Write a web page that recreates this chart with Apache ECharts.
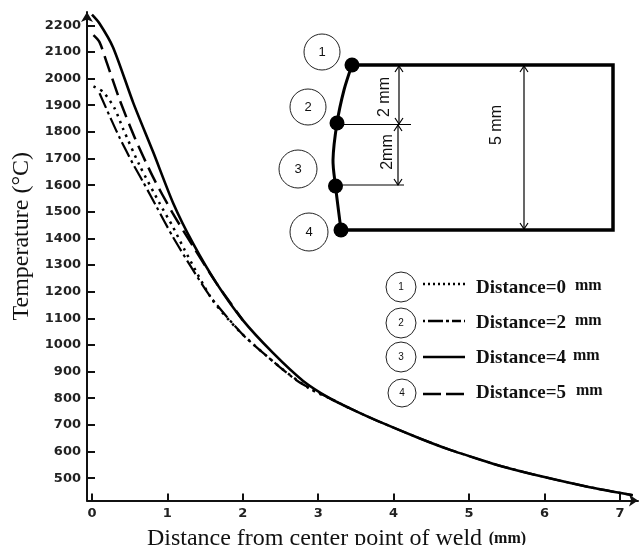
<!DOCTYPE html>
<html><head><meta charset="utf-8">
<style>html,body{margin:0;padding:0;background:#fff}#c{width:639px;height:545px}</style>
<script src="https://cdn.jsdelivr.net/npm/echarts@6/dist/echarts.min.js"></script>
</head><body><div id="c"></div>
<script>
const xTicks = [0,1,2,3,4,5,6,7];
const yTicks = [500,600,700,800,900,1000,1100,1200,1300,1400,1500,1600,1700,1800,1900,2000,2100,2200];
const dist0 = [[0.02,1971],[0.15,1950],[0.3,1888],[0.41,1813],[0.63,1675],[0.9,1530],[1.07,1445],[1.23,1356],[1.6,1168],[1.96,1050],[2.49,917],[2.89,835],[3.15,800],[3.42,762]];
const dist2 = [[0.1,1945],[0.26,1843],[0.37,1776],[0.54,1682],[0.68,1611],[0.86,1517],[1.07,1407],[1.32,1290],[1.56,1185],[1.79,1105],[2.03,1030],[2.49,917],[2.75,860],[3.15,800],[3.42,762],[3.81,712],[4.34,650],[4.74,607],[5.14,570],[5.44,544],[5.97,506],[6.6,466],[7.17,436]];
const dist4 = [[0,2240],[0.1,2207],[0.28,2117],[0.55,1907],[0.81,1725],[1.08,1530],[1.34,1381],[1.65,1232],[2.0,1093],[2.4,970],[2.8,865],[3.15,800],[3.42,762],[3.81,712],[4.34,650],[4.74,607],[5.14,570],[5.44,544],[5.97,506],[6.6,466],[7.17,436]];
const dist5 = [[0.02,2163],[0.1,2137],[0.2,2057],[0.37,1918],[0.57,1776],[0.81,1630],[1.07,1495],[1.34,1370],[1.65,1232],[2.0,1093]];
const seriesNames = ['Distance=0 mm','Distance=2 mm','Distance=4 mm','Distance=5 mm'];
const serif = '"Liberation Serif", serif';
const sans = '"Liberation Sans", Arial, sans-serif';
const ink = '#111';

const chart = echarts.init(document.getElementById('c'));
function circle(cx, cy, r, label, size){
  return [
    {type:'circle',shape:{cx,cy,r},style:{fill:'#fff',stroke:'#222',lineWidth:1}},
    {type:'text',style:{x:cx,y:cy,text:label,font:`${size}px ${sans}`,fill:ink,align:'center',verticalAlign:'middle'}}
  ];
}
function dot(cx,cy){return {type:'circle',shape:{cx,cy,r:7.5},style:{fill:'#000'}};}
function seg(x1,y1,x2,y2,w){return {type:'line',shape:{x1,y1,x2,y2},style:{stroke:'#000',lineWidth:w}};}
function vArrow(x,y1,y2){
  return [seg(x,y1,x,y2,1.2),
    {type:'polyline',shape:{points:[[x-4,y1+6],[x,y1],[x+4,y1+6]]},style:{stroke:'#000',fill:'none',lineWidth:1.2}},
    {type:'polyline',shape:{points:[[x-4,y2-6],[x,y2],[x+4,y2-6]]},style:{stroke:'#000',fill:'none',lineWidth:1.2}}];
}
function vText(x,y,t,size){return {type:'text',x,y,rotation:Math.PI/2,style:{x:0,y:0,text:t,font:`${size}px ${sans}`,fill:ink,align:'center',verticalAlign:'middle'}};}
function legLine(x1,x2,y,dash,w){return {type:'line',shape:{x1,y1:y,x2,y2:y},style:{stroke:'#000',lineWidth:w,lineDash:dash}};}
function legText(y,t,x2){return [
  {type:'text',style:{x:476,y,text:t,font:`bold 19px ${serif}`,fill:ink,align:'left',verticalAlign:'middle'}},
  {type:'text',style:{x:x2,y:y-2,text:'mm',font:`bold 16px ${serif}`,fill:ink,align:'left',verticalAlign:'middle'}}];}

const graphics = [
  {type:'polyline',shape:{points:[[352,65],[613,65],[613,230],[341,230]]},style:{stroke:'#000',fill:'none',lineWidth:3.5}},
  {type:'polyline',shape:{points:[[352,65],[344,90],[337,123],[333,160],[335.5,186],[341,230]],smooth:0.3},style:{stroke:'#000',fill:'none',lineWidth:3}},
  dot(352,65),dot(337,123),dot(335.5,186),dot(341,230),
  seg(337,124.5,411,124.5,1.2),seg(336,185,404,185,1.2),
  ...vArrow(399,66,124),...vArrow(398,125,185),...vArrow(524,66,229),
  vText(385,97,'2 mm',16),vText(388,152,'2mm',16),vText(497,125,'5 mm',16),
  ...circle(322,52,18,'1',13),...circle(308,107,18,'2',13),...circle(298,169,19,'3',13),...circle(309,232,19,'4',13),
  ...circle(401,287,15,'1',10),...circle(401,323,15,'2',10),...circle(401,357,15,'3',10),...circle(402,393,14,'4',10),
  legLine(423,465,284,[2,3],2.5),
  legLine(423,465,321,[2,3,15,3,3,3,7,0],2.5),
  legLine(423,465,357,[],2.5),
  legLine(423,465,394,[18,5],2.5),
  ...legText(288,'Distance=0',575),...legText(323,'Distance=2',575),...legText(358,'Distance=4',573),...legText(393,'Distance=5',576)
];
const mk = (name,data,type,w) => ({name,type:'line',data,symbol:'none',smooth:0.25,clip:false,
  lineStyle:{color:'#000',width:w,type,cap:'butt'}});
chart.setOption({
  animation:false,backgroundColor:'#fff',
  grid:{left:87,right:1,top:12,bottom:44.5,outerBoundsMode:'none'},
  xAxis:{type:'value',min:-0.066,max:7.24,splitLine:{show:false},
    axisLine:{onZero:false,lineStyle:{color:'#111',width:2},symbol:['none','arrow'],symbolSize:[9,9]},
    axisTick:{inside:true,length:7,lineStyle:{color:'#111',width:2},customValues:xTicks},
    axisLabel:{margin:7,color:'#222',fontFamily:'DejaVu Sans',fontWeight:'bold',fontSize:13,customValues:xTicks,showMinLabel:true,showMaxLabel:true,formatter:v=>String(v)},
    name:'{a|Distance from center point of weld}  {b|(mm)}',nameLocation:'middle',nameGap:26,
    nameTextStyle:{padding:[0,52,0,0],rich:{a:{fontFamily:serif,fontSize:24,color:ink},b:{fontFamily:serif,fontSize:16,fontWeight:'bold',color:ink}}}},
  yAxis:{type:'value',min:416,max:2250,splitLine:{show:false},
    axisLine:{onZero:false,lineStyle:{color:'#111',width:2},symbol:['none','arrow'],symbolSize:[9,10]},
    axisTick:{inside:true,length:8,lineStyle:{color:'#111',width:2},customValues:yTicks},
    axisLabel:{margin:6,color:'#222',fontFamily:'DejaVu Sans',fontWeight:'bold',fontSize:13,customValues:yTicks,formatter:v=>String(v)},
    name:'Temperature (°C)',nameLocation:'middle',nameGap:53,nameRotate:90,
    nameTextStyle:{fontFamily:serif,fontSize:24,color:ink,padding:[0,0,0,40]}},
  series:[
    mk(seriesNames[0],dist0,[2.5,5],2.5),
    mk(seriesNames[1],dist2,[16,4,3,4],2.2),
    mk(seriesNames[2],dist4,'solid',2.6),
    mk(seriesNames[3],dist5,[17,7],2.5)
  ],
  graphic:{elements:graphics}
});
</script></body></html>
